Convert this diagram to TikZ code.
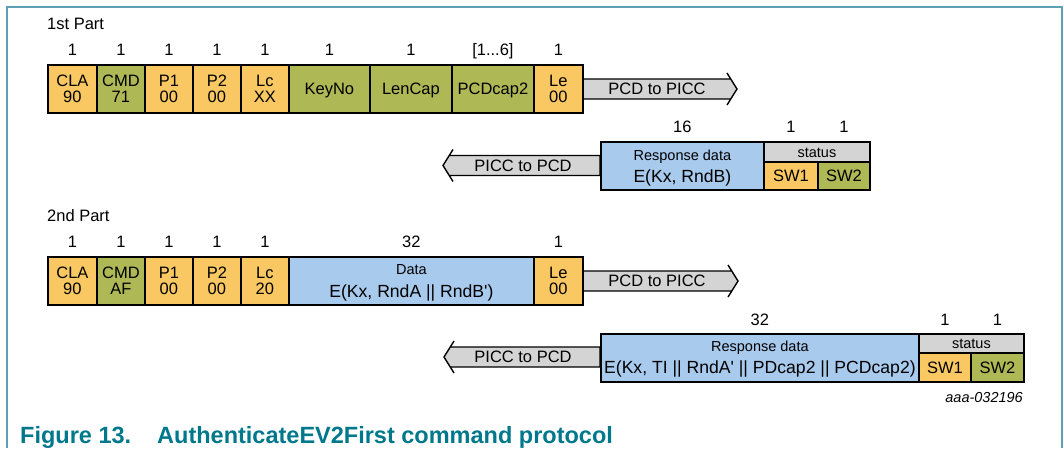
\documentclass[tikz,border=0pt]{standalone}
\usepackage{fontspec}
\setmainfont{Liberation Sans}
\usetikzlibrary{calc}
\newcommand\fsz[1]{\fontsize{#1}{#1}\selectfont}
\definecolor{cy}{RGB}{250,200,98}
\definecolor{cg}{RGB}{174,184,84}
\definecolor{cb}{RGB}{168,202,236}
\definecolor{cgr}{RGB}{212,212,212}
\definecolor{framec}{RGB}{96,160,180}
\definecolor{capc}{RGB}{0,120,140}
\begin{document}
\begin{tikzpicture}[x=1pt,y=-1pt,
  fld/.style={draw=black, line width=1.8pt, anchor=north west, inner sep=0pt, align=center,
    font=\fontsize{16.5}{15.5}\selectfont, text depth=0pt, minimum height=48pt},
  num/.style={font=\fsz{16.5}, inner sep=0pt, text height=11.8pt, text depth=0pt},
  big/.style={font=\fsz{17.6}, inner sep=0pt, text height=12.6pt, text depth=0pt},
  small/.style={font=\fsz{14.5}, inner sep=0pt, text height=10.4pt, text depth=0pt},
  arrbody/.style={draw=black, line width=1.4pt, fill=cgr, line join=miter}]
\useasboundingbox (0,0) rectangle (1064,448);
% frame
\draw[framec, line width=1.2pt] (7,448) -- (7,7) -- (1062,7) -- (1062,448);

% ---------- 1st part ----------
\node[num, anchor=west] (t1) at (47,24) {1st Part};
\coordinate (a1s) at (582,89);
\draw[arrbody] ($(a1s)+(0,-10)$) -- (730.75,79) -- (727,73) -- (737,89) -- (727,105) -- (730.75,99) -- ($(a1s)+(0,10)$) -- cycle;
\node[num] (a1t) at (657,89) {PCD to PICC};

\node[fld, fill=cy, minimum width=49pt] (cla1) at (47,64) {CLA\\90};
\node[fld, fill=cg, minimum width=48pt] (cmd1) at (96,64) {CMD\\71};
\node[fld, fill=cy, minimum width=48pt] (pa1) at (144,64) {P1\\00};
\node[fld, fill=cy, minimum width=48pt] (pb1) at (192,64) {P2\\00};
\node[fld, fill=cy, minimum width=48pt] (lc1) at (240,64) {Lc\\XX};
\node[fld, fill=cg, minimum width=81pt] (key1) at (288,64) {KeyNo};
\node[fld, fill=cg, minimum width=82pt] (len1) at (369,64) {LenCap};
\node[fld, fill=cg, minimum width=82pt] (pcd1) at (451,64) {PCDcap2};
\node[fld, fill=cy, minimum width=49pt] (le1) at (533,64) {Le\\00};
\foreach \n/\t in {cla1/1,cmd1/1,pa1/1,pb1/1,lc1/1,key1/1,len1/1,pcd1/{[1...6]},le1/1}
  \node[num] (n-\n) at (\n.north |- 0,50) {\t};

% response 1
\coordinate (r1s) at (600,165.5);
\draw[arrbody] ($(r1s)+(0,-10)$) -- (449.25,155.5) -- (453,149.5) -- (443,165.5) -- (453,181.5) -- (449.25,175.5) -- ($(r1s)+(0,10)$) -- cycle;
\node[num] (r1t) at (523,165.5) {PICC to PCD};
\node[fld, fill=cb, minimum width=163pt] (resp1) at (600,141) {};
\node[small] (resp1a) at ($(resp1.center)+(0,-11)$) {Response data};
\node[big] (resp1b) at ($(resp1.center)+(0,10)$) {E(Kx, RndB)};
\node[fld, fill=cgr, minimum width=106pt, minimum height=20pt] (stat1) at (763,141) {};
\node[small] (stat1t) at (stat1.center) {status};
\node[fld, fill=cy, minimum width=54pt, minimum height=28pt] (swa1) at (763,161) {SW1};
\node[fld, fill=cg, minimum width=52pt, minimum height=28pt] (swb1) at (817,161) {SW2};
\node[num] (n-resp1) at (resp1.north |- 0,127) {16};
\node[num] (n-swa1) at (swa1.north |- 0,127) {1};
\node[num] (n-swb1) at (swb1.north |- 0,127) {1};

% ---------- 2nd part ----------
\node[num, anchor=west] (t2) at (47,216) {2nd Part};
\coordinate (a2s) at (582,281);
\draw[arrbody] ($(a2s)+(0,-10)$) -- (731.75,271) -- (728,265) -- (738,281) -- (728,297) -- (731.75,291) -- ($(a2s)+(0,10)$) -- cycle;
\node[num] (a2t) at (657,281) {PCD to PICC};

\node[fld, fill=cy, minimum width=49pt] (cla2) at (47,256) {CLA\\90};
\node[fld, fill=cg, minimum width=48pt] (cmd2) at (96,256) {CMD\\AF};
\node[fld, fill=cy, minimum width=48pt] (pa2) at (144,256) {P1\\00};
\node[fld, fill=cy, minimum width=48pt] (pb2) at (192,256) {P2\\00};
\node[fld, fill=cy, minimum width=48pt] (lc2) at (240,256) {Lc\\20};
\node[fld, fill=cb, minimum width=245pt] (data2) at (288,256) {};
\node[small] (data2a) at ($(data2.center)+(0,-12)$) {Data};
\node[big] (data2b) at ($(data2.center)+(0,10)$) {E(Kx, RndA || RndB\textquotesingle)};
\node[fld, fill=cy, minimum width=49pt] (le2) at (533,256) {Le\\00};
\foreach \n/\t in {cla2/1,cmd2/1,pa2/1,pb2/1,lc2/1,data2/32,le2/1}
  \node[num] (n-\n) at (\n.north |- 0,242) {\t};

% response 2
\coordinate (r2s) at (600,357);
\draw[arrbody] ($(r2s)+(0,-10)$) -- (450.25,347) -- (454,341) -- (444,357) -- (454,373) -- (450.25,367) -- ($(r2s)+(0,10)$) -- cycle;
\node[num] (r2t) at (523,357) {PICC to PCD};
\node[fld, fill=cb, minimum width=318pt] (resp2) at (600,333) {};
\node[small] (resp2a) at ($(resp2.center)+(0,-12)$) {Response data};
\node[big] (resp2b) at ($(resp2.center)+(0,9)$) {E(Kx, TI || RndA\textquotesingle{} || PDcap2 || PCDcap2)};
\node[fld, fill=cgr, minimum width=105pt, minimum height=19pt] (stat2) at (918,333) {};
\node[small] (stat2t) at (stat2.center) {status};
\node[fld, fill=cy, minimum width=52pt, minimum height=29pt] (swa2) at (918,352) {SW1};
\node[fld, fill=cg, minimum width=53pt, minimum height=29pt] (swb2) at (970,352) {SW2};
\node[num] (n-resp2) at (resp2.north |- 0,320) {32};
\node[num] (n-swa2) at (swa2.north |- 0,320) {1};
\node[num] (n-swb2) at (swb2.north |- 0,320) {1};

\node[anchor=base east, font=\itshape\fsz{14.5}, inner sep=0pt] (id) at (1023,402) {aaa-032196};

% caption
\node[anchor=base west, font=\bfseries\fsz{23.5}, text=capc, inner sep=0pt] (cap) at (20,443)
  {Figure 13.\hspace{26pt}AuthenticateEV2First command protocol};
\end{tikzpicture}
\end{document}
